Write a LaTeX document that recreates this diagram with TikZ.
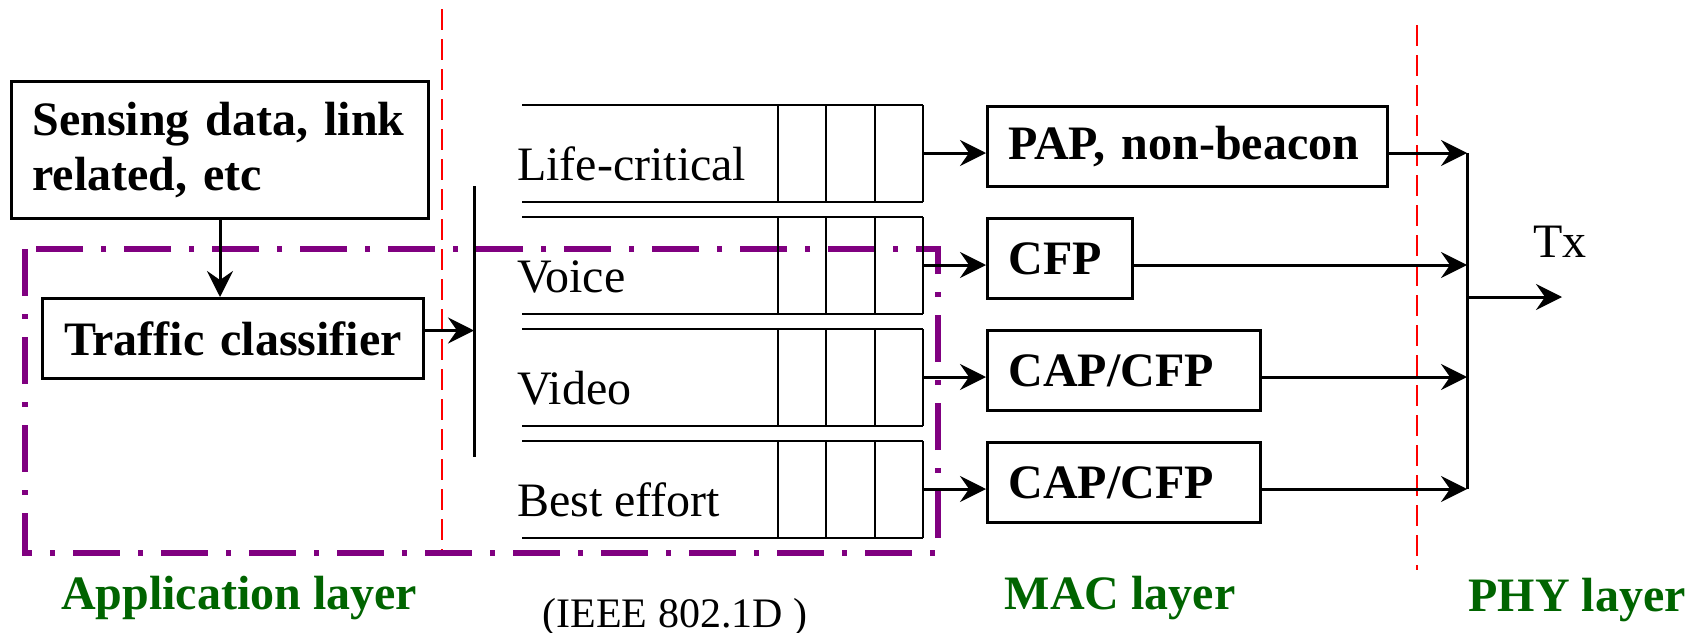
\documentclass[tikz,border=0pt]{standalone}
\usepackage{fontspec}
\setmainfont{Liberation Serif}
\usepackage{tikz}
\usetikzlibrary{arrows.meta}
\usetikzlibrary{calc}
\usetikzlibrary{positioning}

\definecolor{LayerGreen}{RGB}{0,100,0}
\definecolor{QosPurple}{RGB}{128,0,128}

\tikzset{
	box/.style={draw, line width=1.5pt, anchor=north west, inner xsep=10.5pt, inner ysep=0pt, align=left, font=\fontsize{24}{27.5}\selectfont\bfseries},
	arr/.style={-{Stealth[length=13pt, width=13pt, inset=4.5pt]}, line width=1.5pt},
	queue/.style={line width=1pt},
	layer/.style={font=\fontsize{24}{27.5}\selectfont\bfseries, text=LayerGreen, anchor=base},
	plain/.style={font=\fontsize{24}{27.5}\selectfont, anchor=base}
}

\begin{document}
\begin{tikzpicture}[x=0.5pt, y=-0.5pt]
	\useasboundingbox (0,0) rectangle (1692,632);

	%Layer borders

	\draw [red, line width=1pt, dash pattern=on 10.5pt off 4.5pt] (442,9) -- (442,553);
	\draw [red, line width=1pt, dash pattern=on 10.5pt off 4.5pt] (1417,25) -- (1417,570);

	\draw [QosPurple, line width=3pt, dash pattern=on 23.5pt off 9pt on 2.5pt off 9pt] (25,249) rectangle (938,553);

	%Application layer

	\node (Sensing) [box, text width=187.5pt, minimum height=68.5pt] at (10,80) {Sensing data, link\\related, etc};
	\node (TC) [box, align=center, text width=169.5pt, minimum height=40pt] at (41,297) {Traffic classifier};

	\draw [arr] (Sensing.south) -- (Sensing.south |- TC.north);

	\coordinate (BarTop) at (474,186);
	\coordinate (BarBot) at (474,457);
	\draw [line width=1.5pt] (BarTop) -- (BarBot);

	\draw [arr] ([yshift=4pt]TC.east) coordinate (TcOut) -- (TcOut -| BarTop);

	%Queues

	\foreach \y/\lbl [count=\i] in {105/Life-critical, 217/Voice, 329/Video, 441/Best effort} {
		\draw [queue] (522,\y) -- (923,\y) (522,\y+97) -- (923,\y+97);
		\foreach \x in {778, 826, 875, 923}
			\draw [queue] (\x,\y) -- (\x,\y+97);
		\coordinate (Q\i) at (923,\y+48);
		\node (QLabel\i) [plain, anchor=base west] at (510,\y+75) {\lbl};
	}

	%MAC layer

	\node (PAP) [box, text width=179pt, minimum height=40pt] at (986,105) {PAP, non-beacon};
	\node (CFP) [box, text width=51.5pt, minimum height=40pt] at (986,217) {CFP};
	\node (CAPa) [box, text width=115.5pt, minimum height=40pt] at (986,329) {CAP/CFP};
	\node (CAPb) [box, text width=115.5pt, minimum height=40pt] at (986,441) {CAP/CFP};

	\draw [arr] (Q1) -- (Q1 -| PAP.west);
	\draw [arr] (Q2) -- (Q2 -| CFP.west);
	\draw [arr] (Q3) -- (Q3 -| CAPa.west);
	\draw [arr] (Q4) -- (Q4 -| CAPb.west);

	%PHY layer

	\coordinate (Merge) at (1467,297);
	\coordinate (TxOut) at (1562,297);

	\draw [arr] (Q1 -| PAP.east) -- (Q1 -| Merge);
	\draw [arr] (Q2 -| CFP.east) -- (Q2 -| Merge);
	\draw [arr] (Q3 -| CAPa.east) -- (Q3 -| Merge);
	\draw [arr] (Q4 -| CAPb.east) -- (Q4 -| Merge);
	\draw [line width=1.5pt] (Q1 -| Merge) -- (Q4 -| Merge);
	\draw [arr] (Merge) -- (TxOut);

	\node (Tx) [plain] at (1560,257) {Tx};

	%Labels

	\node (AppLayer) [layer] at (239,609) {Application layer};
	\node (Ieee) [plain, font=\fontsize{21}{24}\selectfont] at (675,627) {(IEEE 802.1D )};
	\node (MacLayer) [layer] at (1120,609) {MAC layer};
	\node (PhyLayer) [layer] at (1577,611) {PHY layer};
\end{tikzpicture}
\end{document}
